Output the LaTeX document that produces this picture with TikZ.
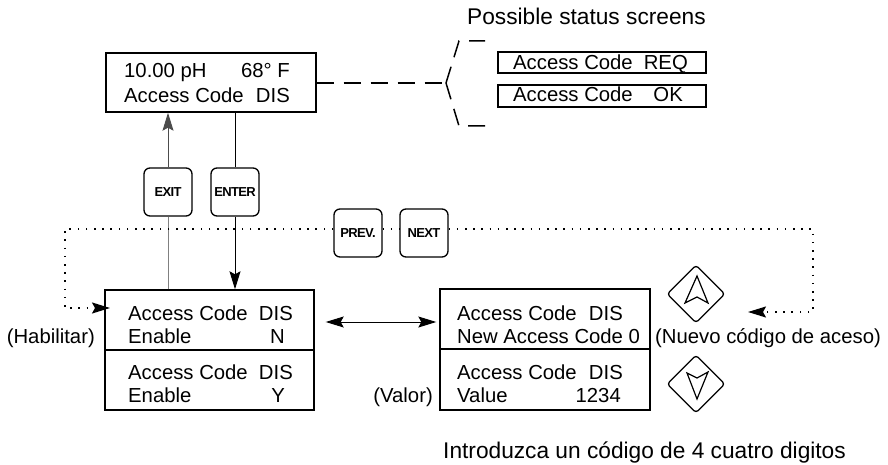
\documentclass[tikz,border=0pt]{standalone}
\usepackage{fontspec}
\setmainfont{Liberation Sans}
\usetikzlibrary{arrows.meta,shapes.geometric}
\begin{document}
\begin{tikzpicture}[x=1pt,y=-1pt,
  box/.style={draw, line width=1.4pt, inner sep=0, fill=white},
  btn/.style={draw, line width=1.3pt, rounded corners=6pt, minimum width=48pt, minimum height=48pt, inner sep=0, fill=white, font=\fontsize{13}{13}\selectfont\bfseries\addfontfeature{LetterSpace=-5}},
  txt/.style={inner sep=0, font=\fontsize{20.3}{24}\selectfont},
  big/.style={inner sep=0, font=\fontsize{22.7}{26}\selectfont},
  dots/.style={line width=1.6pt, dash pattern=on 1.6pt off 6.6pt},
  dashln/.style={line width=1.5pt, dash pattern=on 17pt off 10pt},
  tip/.style={-{Stealth[length=18pt,width=11pt,inset=3pt]}},
  key/.style={diamond, draw, line width=1.3pt, minimum width=58pt, minimum height=58pt, inner sep=0, rounded corners=3pt},
  dart/.style={line width=1.2pt, line join=miter}
]
\useasboundingbox (0,0) rectangle (888,465);

% main screen
\node[box, minimum width=210pt, minimum height=59pt] (top) at (211,82.5) {};
\node[txt, anchor=base west] (t1) at (124,78) {10.00 pH};
\node[txt, anchor=base east] (t2) at (290,78) {68° F};
\node[txt, anchor=base west] (t3) at (124,103) {Access Code};
\node[txt, anchor=base east] (t4) at (290,103) {DIS};

% status screens
\node[big, anchor=base west] (title) at (467,25) {Possible status screens};
\node[box, minimum width=208pt, minimum height=21pt] (req) at (602,62.5) {};
\node[txt, anchor=base west] (r1) at (513,70) {Access Code};
\node[txt, anchor=base east] (r2) at (688,70) {REQ};
\node[box, minimum width=208pt, minimum height=22pt] (ok) at (602,96) {};
\node[txt, anchor=base west] (o1) at (513,102) {Access Code};
\node[txt, anchor=base east] (o2) at (683,102) {OK};

\coordinate (j) at (446,83);
\draw[dashln] (top.east |- j) -- (j);
\draw[dashln] (j) -- (459,41) -- (485,41);
\draw[dashln] (j) -- (459,126) -- (485,126);

% buttons
\node[btn] (exit) at (168,192) {EXIT};
\node[btn] (enter) at (235,192) {ENTER};
\node[btn] (prev) at (358,233) {PREV.};
\node[btn] (next) at (424,233) {NEXT};

% lower screens
\node[box, minimum width=209pt, minimum height=60pt] (lb1) at (209.5,320) {};
\node[txt, anchor=base west] (a1) at (128,320) {Access Code};
\node[txt, anchor=base east] (a2) at (293,320) {DIS};
\node[txt, anchor=base west] (a3) at (128,343) {Enable};
\node[txt, anchor=base east] (a4) at (285,343) {N};
\node[box, minimum width=209pt, minimum height=60pt] (lb2) at (209.5,380) {};
\node[txt, anchor=base west] (b1) at (128,379) {Access Code};
\node[txt, anchor=base east] (b2) at (293,379) {DIS};
\node[txt, anchor=base west] (b3) at (128,402) {Enable};
\node[txt, anchor=base east] (b4) at (285,402) {Y};

\node[box, minimum width=210pt, minimum height=60pt] (rb1) at (545,319) {};
\node[txt, anchor=base west] (c1) at (457,320) {Access Code};
\node[txt, anchor=base east] (c2) at (623,320) {DIS};
\node[txt, anchor=base west] (c3) at (457,343) {New Access Code 0};
\node[box, minimum width=210pt, minimum height=61pt] (rb2) at (545,379.5) {};
\node[txt, anchor=base west] (d1) at (457,379) {Access Code};
\node[txt, anchor=base east] (d2) at (623,379) {DIS};
\node[txt, anchor=base west] (d3) at (457,402) {Value};
\node[txt, anchor=base east] (d4) at (621,402) {1234};

% labels
\node[txt, anchor=base east] (hab) at (95,343) {(Habilitar)};
\node[txt, anchor=base east] (val) at (433,402) {(Valor)};
\node[txt, anchor=base west] (nue) at (655,343) {(Nuevo código de aceso)};
\node[big, anchor=base west] (intro) at (443,458) {Introduzca un código de 4 cuatro digitos};

% arrow keys
\node[key] (up) at (696,294) {};
\node[key] (down) at (696,384) {};
\draw[dart] (697,276) -- (708,303) -- (697,297) -- (685,303) -- cycle;
\draw[dart] (697,399) -- (708,372) -- (697,378) -- (687,373) -- cycle;

% vertical connectors
\draw[gray, line width=1pt] (exit.south |- lb1.north) -- (exit.south);
\draw[gray!60!black, line width=1pt, tip] (exit.north) -- (exit.north |- top.south);
\draw[line width=1pt] (enter.north |- top.south) -- (enter.north);
\draw[line width=1pt, tip] (enter.south) -- (enter.south |- lb1.north);

% double arrow
\draw[line width=1pt, {Stealth[length=18pt,width=11pt,inset=3pt]}-{Stealth[length=18pt,width=11pt,inset=3pt]}]
  ([xshift=11pt,yshift=-2pt]lb1.east) -- ([xshift=-3pt,yshift=-3pt]rb1.west);

% dotted loops
\coordinate (inL) at (110,308);
\coordinate (inR) at (748,312);
\draw[dots, tip] ([yshift=4pt]prev.west) -- (65,229) -- (65,308) -- (inL);
\draw[dots] ([yshift=4pt]prev.east) -- ([yshift=4pt]next.west);
\draw[dots, tip] ([yshift=4pt]next.east) -- (813,229) -- (813,312) -- (inR);
\end{tikzpicture}
\end{document}
